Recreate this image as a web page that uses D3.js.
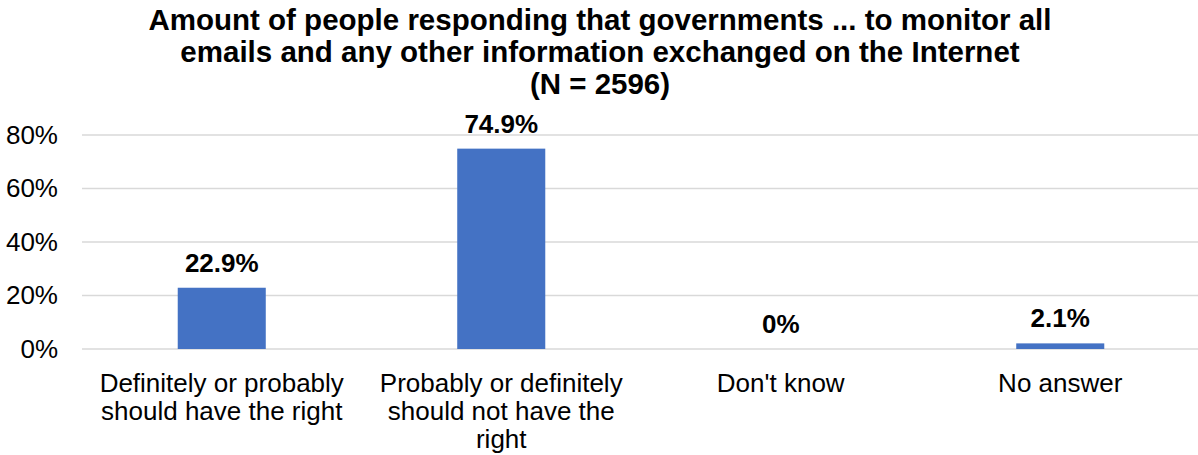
<!DOCTYPE html>
<html>
<head>
<meta charset="utf-8">
<script src="https://cdn.jsdelivr.net/npm/d3@7"></script>
<style>
  body { margin: 0; background: #fff; }
  svg text { font-family: "Liberation Sans", Arial, sans-serif; fill: #000; }
</style>
</head>
<body>
<svg id="chart" width="1198" height="455"></svg>
<script>
const categories = [
  ["Definitely or probably", "should have the right"],
  ["Probably or definitely", "should not have the", "right"],
  ["Don't know"],
  ["No answer"]
];
const values = [22.9, 74.9, 0, 2.1];
const valueLabels = ["22.9%", "74.9%", "0%", "2.1%"];
const yTicks = [0, 20, 40, 60, 80];
const titleLines = [
  "Amount of people responding that governments ... to monitor all",
  "emails and any other information exchanged on the Internet",
  "(N = 2596)"
];

const svg = d3.select("#chart");
const W = 1198;
const plotLeft = 82;
const plotTop = 135;
const plotBottom = 349;

const x = d3.scaleBand()
  .domain(d3.range(categories.length))
  .range([plotLeft, 1200])
  .paddingInner(0.685)
  .paddingOuter(0.3425);

const y = d3.scaleLinear().domain([0, 80]).range([plotBottom, plotTop]);

// title
svg.append("g").selectAll("text")
  .data(titleLines)
  .join("text")
  .attr("x", 600)
  .attr("y", (d, i) => 30 + i * 32)
  .attr("text-anchor", "middle")
  .style("font-size", "29.5px")
  .style("font-weight", "bold")
  .text(d => d);

// gridlines
svg.append("g").selectAll("line")
  .data(yTicks)
  .join("line")
  .attr("x1", plotLeft)
  .attr("x2", W)
  .attr("y1", d => y(d))
  .attr("y2", d => y(d))
  .attr("stroke", "#d9d9d9")
  .attr("stroke-width", 1.5);

// y axis labels
const yAxis = d3.axisLeft(y).tickValues(yTicks).tickFormat(d => d + "%").tickSize(0).tickPadding(0);
const yg = svg.append("g").attr("transform", "translate(58,0)").call(yAxis);
yg.select(".domain").remove();
yg.selectAll("text")
  .style("font-size", "26px")
  .style("font-family", "'Liberation Sans', Arial, sans-serif")
  .attr("fill", "#000");

// bars
svg.append("g").selectAll("rect")
  .data(values)
  .join("rect")
  .attr("x", (d, i) => x(i))
  .attr("width", x.bandwidth())
  .attr("y", d => y(d))
  .attr("height", d => plotBottom - y(d))
  .attr("fill", "#4472C4");

// value labels
svg.append("g").selectAll("text")
  .data(values)
  .join("text")
  .attr("x", (d, i) => x(i) + x.bandwidth() / 2)
  .attr("y", d => y(d) - 16)
  .attr("text-anchor", "middle")
  .style("font-size", "26px")
  .style("font-weight", "bold")
  .text((d, i) => valueLabels[i]);

// category labels
const cg = svg.append("g").selectAll("text")
  .data(categories)
  .join("text")
  .attr("text-anchor", "middle")
  .style("font-size", "26px");
cg.each(function(lines, i) {
  d3.select(this).selectAll("tspan")
    .data(lines)
    .join("tspan")
    .attr("x", x(i) + x.bandwidth() / 2)
    .attr("y", (d, j) => 392 + j * 28)
    .text(d => d);
});
</script>
</body>
</html>
